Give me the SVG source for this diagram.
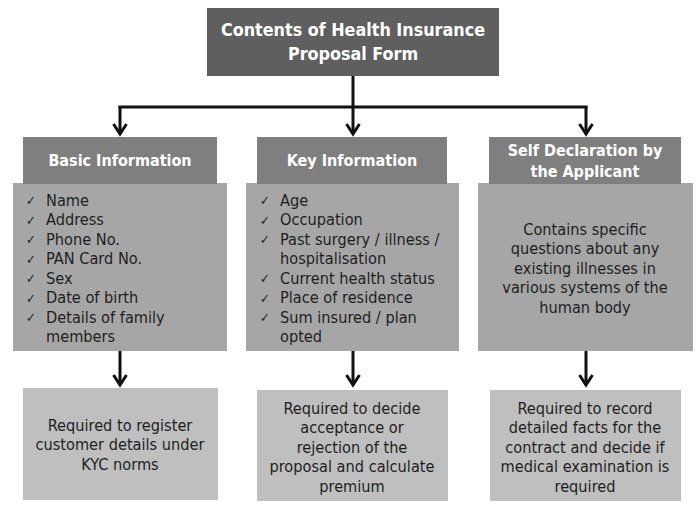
<svg xmlns="http://www.w3.org/2000/svg" width="696" height="510" viewBox="0 0 696 510">
<defs>
<style>
text{font-family:"DejaVu Sans Condensed","DejaVu Sans","Liberation Sans",sans-serif;}
.title{fill:#ffffff;font-weight:bold;font-size:17.8px;text-anchor:middle;}
.head{fill:#ffffff;font-weight:bold;font-size:16px;text-anchor:middle;}
.body{fill:#1e1e1e;font-size:16.2px;}
.mid{text-anchor:middle;}
.chk{fill:#1e1e1e;font-size:13px;}
.top{fill:#5f5f5f;}
.hdr{fill:#7f7f7f;}
.cnt{fill:#a6a6a6;}
.bot{fill:#bfbfbf;}
.conn{stroke:#111111;stroke-width:3;fill:none;}
</style>
<marker id="arr" markerUnits="userSpaceOnUse" viewBox="0 0 14 16" refX="11" refY="8" markerWidth="14" markerHeight="16" orient="auto">
<path d="M1,1.5 L11,8 L1,14.5" fill="none" stroke="#111111" stroke-width="3"/>
</marker>
</defs>
<rect width="696" height="510" fill="#ffffff"/>

<g id="connectors">
<path class="conn" d="M353,76 V107"/>
<path class="conn" d="M118.5,107 H587.5"/>
<path class="conn" d="M120,106 V134" marker-end="url(#arr)"/>
<path class="conn" d="M353,106 V134" marker-end="url(#arr)"/>
<path class="conn" d="M586,106 V134" marker-end="url(#arr)"/>
<path class="conn" d="M120,351 V385" marker-end="url(#arr)"/>
<path class="conn" d="M353,351 V385" marker-end="url(#arr)"/>
<path class="conn" d="M586,351 V385" marker-end="url(#arr)"/>
</g>

<g id="root">
<rect class="top" x="207" y="8" width="292" height="68"/>
<text class="title" x="353" y="36">Contents of Health Insurance</text>
<text class="title" x="353" y="60">Proposal Form</text>
</g>

<g id="basic">
<rect class="cnt" x="13" y="183" width="214" height="168"/>
<rect class="hdr" x="23" y="137" width="194" height="47"/>
<text class="head" x="120" y="166">Basic Information</text>
<g class="chk">
<text x="26" y="205">✓</text><text x="26" y="224.5">✓</text><text x="26" y="244">✓</text><text x="26" y="263.5">✓</text><text x="26" y="283">✓</text><text x="26" y="302.5">✓</text><text x="26" y="322">✓</text>
</g>
<g class="body">
<text x="46" y="205.5">Name</text>
<text x="46" y="225">Address</text>
<text x="46" y="244.5">Phone No.</text>
<text x="46" y="264">PAN Card No.</text>
<text x="46" y="283.5">Sex</text>
<text x="46" y="303">Date of birth</text>
<text x="46" y="322.5">Details of family</text>
<text x="46" y="342">members</text>
</g>
</g>

<g id="key">
<rect class="cnt" x="246" y="183" width="213" height="168"/>
<rect class="hdr" x="257" y="137" width="190" height="47"/>
<text class="head" x="352" y="166">Key Information</text>
<g class="chk">
<text x="260" y="205">✓</text><text x="260" y="224.5">✓</text><text x="260" y="244">✓</text><text x="260" y="283">✓</text><text x="260" y="302.5">✓</text><text x="260" y="322">✓</text>
</g>
<g class="body">
<text x="280" y="205.5">Age</text>
<text x="280" y="225">Occupation</text>
<text x="280" y="244.5">Past surgery / illness /</text>
<text x="280" y="264">hospitalisation</text>
<text x="280" y="283.5">Current health status</text>
<text x="280" y="303">Place of residence</text>
<text x="280" y="322.5">Sum insured / plan</text>
<text x="280" y="342">opted</text>
</g>
</g>

<g id="self">
<rect class="cnt" x="478" y="183" width="215" height="168"/>
<rect class="hdr" x="489" y="137" width="192" height="47"/>
<text class="head" x="585" y="156">Self Declaration by</text>
<text class="head" x="585" y="177">the Applicant</text>
<g class="body mid">
<text x="585" y="234.5">Contains specific</text>
<text x="585" y="254">questions about any</text>
<text x="585" y="273.5">existing illnesses in</text>
<text x="585" y="293">various systems of the</text>
<text x="585" y="312.5">human body</text>
</g>
</g>

<g id="basic-purpose">
<rect class="bot" x="23" y="388" width="195" height="112"/>
<g class="body mid">
<text x="120" y="430.5">Required to register</text>
<text x="120" y="450">customer details under</text>
<text x="120" y="470">KYC norms</text>
</g>
</g>

<g id="key-purpose">
<rect class="bot" x="257" y="390" width="191" height="111"/>
<g class="body mid">
<text x="352" y="413.5">Required to decide</text>
<text x="352" y="433">acceptance or</text>
<text x="352" y="452.5">rejection of the</text>
<text x="352" y="472">proposal and calculate</text>
<text x="352" y="491.5">premium</text>
</g>
</g>

<g id="self-purpose">
<rect class="bot" x="490" y="390" width="191" height="111"/>
<g class="body mid">
<text x="585" y="413.5">Required to record</text>
<text x="585" y="433">detailed facts for the</text>
<text x="585" y="452.5">contract and decide if</text>
<text x="585" y="472">medical examination is</text>
<text x="585" y="491.5">required</text>
</g>
</g>
</svg>
